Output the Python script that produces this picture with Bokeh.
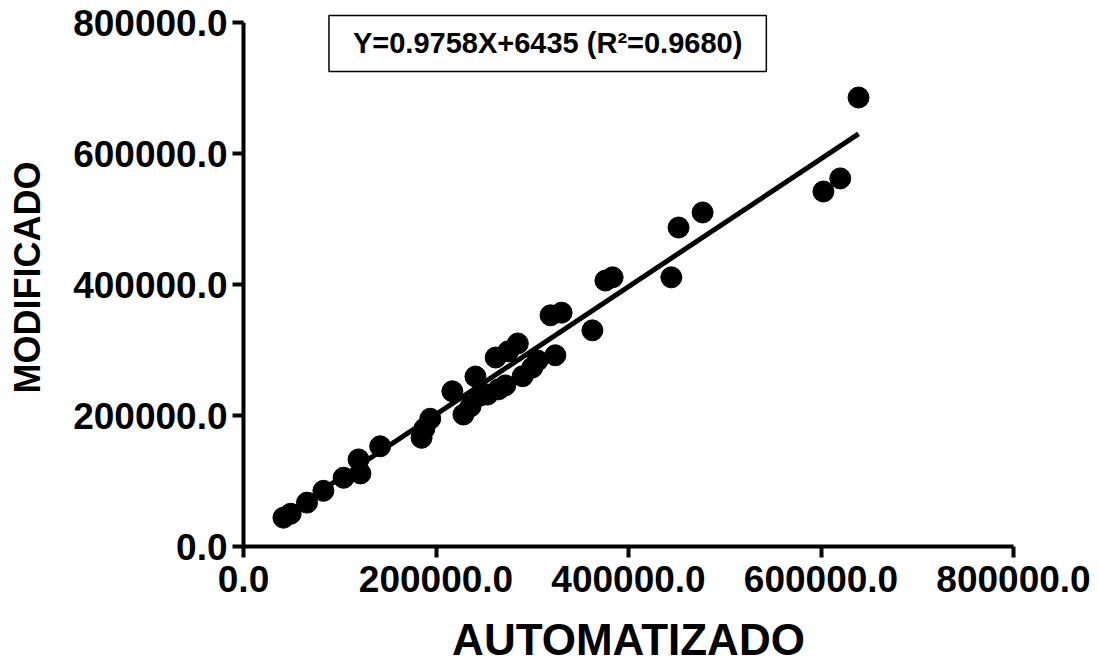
from bokeh.plotting import figure
from bokeh.models import Range1d, Label, FixedTicker
from bokeh.embed import file_html
from bokeh.resources import INLINE

# Data
automatizado = [41500, 49000, 66000, 83000, 104000, 121500, 119500, 142000,
                185000, 188000, 194000, 217000, 228500, 236000, 241000, 246000,
                253500, 262000, 265000, 272000, 275000, 285000, 290000, 300000,
                305500, 324000, 319000, 330500, 362500, 376000, 383500, 444500,
                452000, 477000, 602500, 620000, 639000]
modificado = [44000, 50000, 67000, 85000, 105000, 111500, 133000, 153000,
              166000, 180000, 195000, 237000, 201500, 214000, 259500, 230500,
              232000, 288500, 240000, 246000, 298000, 310000, 260000, 273000,
              284000, 292000, 353000, 357000, 330000, 406000, 411000, 411000,
              487000, 510000, 542000, 562000, 685500]

slope = 0.9758
intercept = 6435
r2 = 0.9680

ticks = [0, 200000, 400000, 600000, 800000]
tick_labels = ["0.0", "200000.0", "400000.0", "600000.0", "800000.0"]

FONT = "Liberation Sans"

# y range extends a little above 800000 so the equation box is not clipped;
# the axis line itself is bounded to 0..800000
p = figure(width=1099, height=667, output_backend="svg", toolbar_location=None,
           x_range=Range1d(0, 800000), y_range=Range1d(0, 821400),
           min_border_left=243, min_border_right=86, min_border_top=8,
           min_border_bottom=121)
p.grid.visible = False
p.outline_line_color = None
p.background_fill_color = "white"
p.border_fill_color = "white"

for ax in (p.xaxis[0], p.yaxis[0]):
    ax.ticker = FixedTicker(ticks=ticks)
    ax.major_label_overrides = {t: l for t, l in zip(ticks, tick_labels)}
    ax.axis_line_width = 4
    ax.axis_line_color = "black"
    ax.major_tick_line_width = 4
    ax.major_tick_line_color = "black"
    ax.major_tick_out = 11
    ax.major_tick_in = 0
    ax.minor_tick_line_color = None
    ax.major_label_text_font = FONT
    ax.major_label_text_font_style = "bold"
    ax.major_label_text_color = "black"
    ax.axis_label_text_font = FONT
    ax.axis_label_text_font_style = "bold"
    ax.axis_label_text_color = "black"

p.yaxis.bounds = (0, 800000)
p.xaxis.axis_label = "AUTOMATIZADO"
p.yaxis.axis_label = "MODIFICADO"
p.xaxis.major_label_text_font_size = "37px"
p.yaxis.major_label_text_font_size = "37px"
p.xaxis.axis_label_text_font_size = "44px"
p.yaxis.axis_label_text_font_size = "36px"
p.xaxis.major_label_standoff = 8
p.yaxis.major_label_standoff = 5
p.xaxis.axis_label_standoff = 20
p.yaxis.axis_label_standoff = 22

# regression line
x0, x1 = min(automatizado), max(automatizado)
p.line([x0, x1], [slope * x0 + intercept, slope * x1 + intercept],
       line_color="black", line_width=5)

p.scatter(automatizado, modificado, size=21, fill_color="black",
          line_color="black", marker="circle")

eq = Label(x=316000, y=768000, text=f"Y={slope}X+{intercept} (R²={r2:.4f})",
           text_align="center", text_baseline="middle",
           text_font=FONT, text_font_style="bold", text_font_size="29px",
           text_color="black", border_line_color="black", border_line_width=1.5,
           background_fill_color="white", padding=(24, 12))
p.add_layout(eq)

open("out.html", "w").write(file_html(p, INLINE))
